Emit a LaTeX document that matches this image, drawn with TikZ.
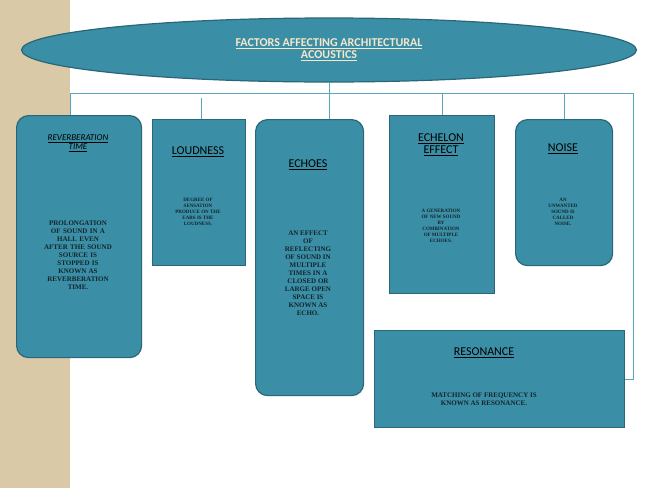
\documentclass[tikz,border=0pt]{standalone}
\usepackage{xcolor}
\usepackage{fontspec}
\setmainfont{Carlito}
\newfontfamily\bodyfont{Liberation Serif}
\usepackage{tikz}
\usetikzlibrary{shapes.geometric}
\definecolor{teal}{HTML}{3A8FA6}
\definecolor{tealdark}{HTML}{2A6677}
\definecolor{linec}{HTML}{5AA5BD}
\definecolor{beige}{HTML}{D9C9A7}
\definecolor{cream}{HTML}{F6E7CB}
\definecolor{ink}{HTML}{14232A}
\begin{document}
\begin{tikzpicture}[x=1pt,y=-1pt]
  \tikzstyle{factor}=[draw=tealdark,line width=1.2pt,fill=teal,anchor=north west,inner sep=3pt,align=center]
  \tikzstyle{round}=[factor,rounded corners=12pt]
  \tikzstyle{head}=[font=\large,text=black]
  \tikzstyle{body}=[font=\bodyfont\bfseries\scriptsize,text=ink,align=center]
  \tikzstyle{bus}=[draw=linec,line width=0.8pt]
  \useasboundingbox (0,0) rectangle (651,488);
  \fill[beige] (0,0) rectangle (70,488);
  % title
  \node[ellipse,draw=tealdark,line width=1.2pt,fill=teal,minimum width=615,minimum height=64,
        font=\bfseries\large,text=cream,align=center] (title) at (329,50)
        {\underline{FACTORS AFFECTING ARCHITECTURAL}\\[-2pt]\underline{ACOUSTICS}};
  % boxes
  \node[round,minimum width=125,minimum height=242] (reverb) at (16,115) {};
  \node[factor,minimum width=93,minimum height=146] (loud) at (152,119) {};
  \node[round,minimum width=108,minimum height=276] (echo) at (255,119) {};
  \node[factor,minimum width=105,minimum height=178] (echelon) at (389,115) {};
  \node[round,minimum width=97,minimum height=146] (noise) at (515,119) {};
  \node[factor,minimum width=250,minimum height=97] (reson) at (374,330) {};
  % texts
  \node[head,font=\itshape\small,align=center] at (78,143) {\underline{REVERBERATION}\\[-2pt]\underline{TIME}};
  \node[body,text width=110] at (78,255) {PROLONGATION\\OF SOUND IN A\\HALL EVEN\\AFTER THE SOUND\\SOURCE IS\\STOPPED IS\\KNOWN AS\\REVERBERATION\\TIME.};
  \node[head] at (198,152) {\underline{LOUDNESS}};
  \node[body,font=\bodyfont\bfseries\tiny] at (198,212) {DEGREE OF\\SENSATION\\PRODUCE ON THE\\EARS IS THE\\LOUDNESS.};
  \node[head] at (308,165) {\underline{ECHOES}};
  \node[body] at (308,273) {AN EFFECT\\OF\\REFLECTING\\OF SOUND IN\\MULTIPLE\\TIMES IN A\\CLOSED OR\\LARGE OPEN\\SPACE IS\\KNOWN AS\\ECHO.};
  \node[head,align=center] at (441,145) {\underline{ECHELON}\\[-2pt]\underline{EFFECT}};
  \node[body,font=\bodyfont\bfseries\tiny] at (441,226) {A GENERATION\\OF NEW SOUND\\BY\\COMBINATION\\OF MULTIPLE\\ECHOES.};
  \node[head] at (563,149) {\underline{NOISE}};
  \node[body,font=\bodyfont\bfseries\tiny] at (563,212) {AN\\UNWANTED\\SOUND IS\\CALLED\\NOISE.};
  \node[head] at (484,353) {\underline{RESONANCE}};
  \node[body] at (484,399) {MATCHING OF FREQUENCY IS\\KNOWN AS RESONANCE.};
  % connectors
  \coordinate (busL) at (70,93);
  \coordinate (busR) at (633,93);
  \draw[bus] (busL) -- (busR);
  \draw[bus] (busL) -- (reverb.north -| busL);
  \draw[bus] (201,98) -- (loud.north -| 201,0);
  \draw[bus] (title.south) -- (echo.north -| title.south);
  \draw[bus] (echelon.north |- busL) -- (echelon.north);
  \draw[bus] (noise.north |- busL) -- (noise.north);
  \draw[bus] (busR) |- (reson.east);
\end{tikzpicture}
\end{document}
